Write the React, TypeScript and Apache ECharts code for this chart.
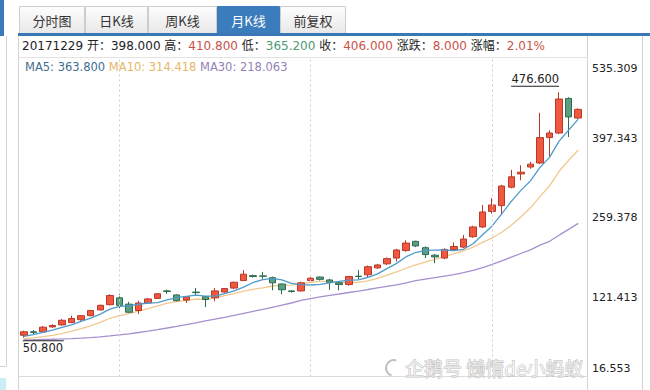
import React, { useEffect, useRef } from "react";
import * as echarts from "echarts";

// ---------- data ----------
const opens = [55, 61, 61, 69.5, 73, 77, 82, 89, 99, 108, 120, 109, 98, 111, 119, 132, 125, 116, 130, 122, 120, 130, 137, 150, 158.5, 158, 155, 144, 132, 132, 150, 156, 151, 146, 143, 157.5, 160, 172, 179, 189, 202, 218, 207, 194, 189, 204, 208, 226, 243, 270, 280, 312, 335, 347, 354, 398, 406, 466, 432];
const closes = [61, 60, 69, 72, 81, 84, 89, 98, 107, 124, 107, 95, 111, 118, 127, 131, 115, 122, 129, 117, 132, 136, 147, 161, 157, 157.5, 146, 134, 131, 146, 154, 152, 147, 143, 157, 157, 174, 177, 188, 203, 215, 210, 195, 191, 204, 209, 222, 243, 269, 281, 314, 330, 338, 352, 398, 406, 465, 434, 447];
const lows = [50.8, 56, 59, 68, 72, 76, 80, 88, 98, 107, 102, 94, 92, 110, 118, 127, 114, 111, 125, 104, 114, 129, 135, 149, 155, 153, 133, 126, 129, 131, 149, 150, 134, 133, 141, 152, 156, 170, 177, 183, 200, 208, 189, 180, 187, 202, 206, 224, 241, 266, 264, 310, 324, 344, 352, 365.2, 404, 399, 430];
const highs = [63, 64, 71, 74, 83, 89, 90, 99, 108, 126, 127, 113, 115, 120, 128, 134, 126, 123, 137, 123, 137, 137, 148, 168, 160, 165, 157, 145, 133, 148, 156, 157, 153, 147, 158, 168, 176, 179, 190, 205, 220, 219, 209, 196, 206, 216, 229, 245, 281, 293, 316, 342, 350, 356, 441, 410.8, 476.6, 468, 449];

const ma5 = [53, 56, 60, 64, 68.6, 73.2, 79, 84.8, 91.8, 100.4, 105, 106.2, 108.8, 111, 111.6, 116.4, 120.4, 122.6, 124.8, 122.8, 123, 127.2, 132.2, 138.6, 146.6, 151.7, 153.7, 151.1, 145.1, 142.9, 142.2, 143.4, 146, 148.4, 150.6, 151.2, 155.6, 161.6, 170.6, 179.8, 191.4, 198.6, 202.2, 202.8, 203, 201.8, 204.2, 213.8, 229.4, 244.8, 265.8, 287.4, 306.4, 323, 346.4, 363.8, 391.8, 411, 430];
const ma10 = [49, 50.5, 52.5, 55, 58, 62, 66.5, 71.5, 77.5, 84.5, 89.1, 92.6, 96.8, 101.4, 106, 110.7, 113.3, 115.7, 117.9, 117.2, 119.7, 123.8, 127.4, 131.7, 134.7, 137.4, 140.5, 141.7, 141.9, 144.8, 147, 148.6, 148.6, 146.8, 146.8, 146.7, 149.5, 153.8, 159.5, 165.2, 171.3, 177.1, 181.9, 186.7, 191.4, 196.6, 201.4, 208, 216.1, 223.9, 233.8, 245.8, 260.1, 276.2, 295.6, 314.418, 339.6, 358.7, 376.5];
const ma30 = [47, 47.3, 47.7, 48.1, 48.6, 49.2, 50, 51, 52.2, 53.8, 55.6, 57.6, 59.8, 62.2, 64.8, 67.6, 70.5, 73.5, 76.6, 79.8, 83, 86.2, 89.5, 93, 96.5, 100, 103.6, 107.2, 111, 115.5, 118.6, 121.7, 124.3, 126.6, 129.2, 131.6, 134.4, 137.1, 139.8, 142.4, 146, 149.8, 152.6, 155.1, 157.6, 160.2, 163.8, 167.8, 172.5, 178, 184, 190.5, 196.9, 203.2, 211.3, 218.063, 228.7, 238.7, 249.2];

const categories = opens.map((_, i) => String(i + 1));
const tabs = ["分时图", "日K线", "周K线", "月K线", "前复权"];
const activeTab = 3;
const selectedDate = "20171229";
const selectedIndex = 55;
const dottedIndices = [10, 30, 49];
const yTickLabels = ["16.553", "121.413", "259.378", "397.343", "535.309"];
const yMin = -16.553;
const yMax = 535.309;
const watermark = "企鹅号 懒惰de小蚂蚁";

// ---------- styles ----------
const NUM_FONT = "'DejaVu Sans', Verdana, sans-serif";
const MIX_FONT = "'DejaVu Sans', 'Noto Sans CJK SC', sans-serif";
const CJK_FONT = "'Noto Sans CJK SC', 'DejaVu Sans', sans-serif";
const UP = "#f0583f";
const UP_BORDER = "#b8392a";
const DOWN = "#5c9f80";
const DOWN_BORDER = "#2e6c50";
const MA5_COLOR = "#4d9acb";
const MA10_COLOR = "#f2c88e";
const MA30_COLOR = "#a690cf";
const tabEdges = [19, 85, 148, 217, 280, 346];

export default function App() {
  const ref = useRef<HTMLDivElement>(null);

  useEffect(() => {
    if (!ref.current) return;
    const chart = echarts.init(ref.current, null, { renderer: "svg" });
    const step = (yMax - yMin) / 4;

    const i = selectedIndex;
    const prev = closes[i - 1];
    const o = opens[i], h = highs[i], l = lows[i], c = closes[i];
    const chg = c - prev;
    const pct = (chg / prev) * 100;
    const tone = (v: number) => (v > prev ? "r" : v < prev ? "g" : "k");
    const headerText =
      `{k|${selectedDate} 开：}{${tone(o)}|${o.toFixed(3)}}` +
      `{k| 高：}{${tone(h)}|${h.toFixed(3)}}` +
      `{k| 低：}{${tone(l)}|${l.toFixed(3)}}` +
      `{k| 收：}{${tone(c)}|${c.toFixed(3)}}` +
      `{k| 涨跌：}{${chg >= 0 ? "r" : "g"}|${chg.toFixed(3)}}` +
      `{k| 涨幅：}{${chg >= 0 ? "r" : "g"}|${pct.toFixed(2)}%}`;
    const maText =
      `{a|MA5: ${ma5[i].toFixed(3)}} {b|MA10: ${ma10[i].toFixed(3)}} {c|MA30: ${ma30[i].toFixed(3)}}`;

    const tabGradient = new echarts.graphic.LinearGradient(0, 0, 0, 1, [
      { offset: 0, color: "#fdfdfd" },
      { offset: 1, color: "#e8e8e8" },
    ]);

    const frameLine = (x1: number, y1: number, x2: number, y2: number, color = "#d3d3d3") => ({
      type: "line",
      silent: true,
      z: 1,
      shape: { x1, y1, x2, y2 },
      style: { stroke: color, lineWidth: 1 },
    });

    const tabElems = tabs.map((t, k) => {
      const x0 = tabEdges[k];
      const x1 = tabEdges[k + 1];
      const active = k === activeTab;
      return {
        type: "group",
        children: [
          {
            type: "rect",
            shape: { x: x0 + 0.5, y: 6.5, width: x1 - x0 - 1, height: 27 },
            style: {
              fill: active ? "#3b7cbc" : tabGradient,
              stroke: active ? "#3b7cbc" : "#cdcdcd",
              lineWidth: 1,
            },
          },
          {
            type: "text",
            x: (x0 + x1) / 2,
            y: 20,
            style: {
              text: t,
              fill: active ? "#ffffff" : "#333333",
              font: `13px ${CJK_FONT}`,
              align: "center",
              verticalAlign: "middle",
              textAlign: "center",
              textVerticalAlign: "middle",
            },
          },
        ],
      };
    });

    const axisRich = {
      mid: { fontSize: 11, fontFamily: NUM_FONT, color: "#222222" },
      top: { fontSize: 11, fontFamily: NUM_FONT, color: "#222222", padding: [4, 0, 0, 0] },
      bot: { fontSize: 11, fontFamily: NUM_FONT, color: "#222222", padding: [0, 0, 3, 0] },
    };

    const option: any = {
      animation: false,
      backgroundColor: "#ffffff",
      grid: { left: 19, right: 67, top: 58.5, bottom: 13.5, containLabel: false },
      xAxis: {
        type: "category",
        data: categories,
        boundaryGap: true,
        axisLine: { show: false },
        axisTick: { show: false },
        axisLabel: { show: false },
        splitLine: { show: false },
      },
      yAxis: {
        type: "value",
        position: "right",
        min: yMin,
        max: yMax,
        interval: step,
        axisLine: { show: false },
        axisTick: { show: false },
        splitLine: { show: false },
        axisLabel: {
          margin: 9,
          color: "#222222",
          fontSize: 11,
          fontFamily: NUM_FONT,
          verticalAlignMinLabel: "bottom",
          verticalAlignMaxLabel: "top",
          rich: axisRich,
          formatter: (v: number) => {
            const idx = Math.round((v - yMin) / step);
            const text = yTickLabels[idx] ?? "";
            const key = idx === 0 ? "bot" : idx === yTickLabels.length - 1 ? "top" : "mid";
            return `{${key}|${text}}`;
          },
        },
      },
      series: [
        {
          type: "candlestick",
          name: "K",
          barWidth: 7,
          data: opens.map((op, k) => [op, closes[k], lows[k], highs[k]]),
          itemStyle: {
            color: UP,
            color0: DOWN,
            borderColor: UP_BORDER,
            borderColor0: DOWN_BORDER,
            borderWidth: 1,
          },
          markLine: {
            silent: true,
            symbol: ["none", "none"],
            label: { show: false },
            lineStyle: { color: "#cfcfcf", type: [2, 3], width: 1 },
            data: dottedIndices.map((k) => ({ xAxis: categories[k] })),
          },
          markPoint: {
            symbol: "circle",
            symbolSize: 1,
            silent: true,
            itemStyle: { color: "rgba(0,0,0,0)" },
            label: {
              show: true,
              position: "inside",
              rich: {
                t: { fontSize: 11.5, fontFamily: NUM_FONT, color: "#222222", lineHeight: 13 },
                u1: { width: 48, height: 1, lineHeight: 2, backgroundColor: "#222222" },
                u2: { width: 41, height: 1, lineHeight: 2, backgroundColor: "#222222" },
              },
            },
            data: [
              {
                type: "max",
                valueDim: "highest",
                label: {
                  align: "right",
                  verticalAlign: "bottom",
                  offset: [0, -5],
                  formatter: (p: any) => `{t|${Number(p.value).toFixed(3)}}\n{u1|}`,
                },
              },
              {
                type: "min",
                valueDim: "lowest",
                label: {
                  align: "left",
                  verticalAlign: "top",
                  offset: [-1, 2],
                  formatter: (p: any) => `{u2|}\n{t|${Number(p.value).toFixed(3)}}`,
                },
              },
            ],
          },
          z: 3,
        },
        {
          type: "line",
          name: "MA5",
          data: ma5,
          showSymbol: false,
          symbol: "none",
          lineStyle: { color: MA5_COLOR, width: 1.3 },
          itemStyle: { color: MA5_COLOR },
          z: 4,
        },
        {
          type: "line",
          name: "MA10",
          data: ma10,
          showSymbol: false,
          symbol: "none",
          lineStyle: { color: MA10_COLOR, width: 1.3 },
          itemStyle: { color: MA10_COLOR },
          z: 2,
        },
        {
          type: "line",
          name: "MA30",
          data: ma30,
          showSymbol: false,
          symbol: "none",
          lineStyle: { color: MA30_COLOR, width: 1.3 },
          itemStyle: { color: MA30_COLOR },
          z: 2,
        },
      ],
      graphic: [
        // page chrome on the far left
        { type: "rect", silent: true, shape: { x: 0, y: 0, width: 4, height: 36 }, style: { fill: "#3b7bbb" } },
        frameLine(6.5, 36, 6.5, 366),
        frameLine(0, 366.5, 6.5, 366.5),
        { type: "rect", silent: true, shape: { x: 0, y: 378, width: 6, height: 12 }, style: { fill: "#c9eef6" } },
        // tabs
        ...tabElems,
        // blue bar under tabs
        { type: "rect", silent: true, shape: { x: 18, y: 33, width: 632, height: 3 }, style: { fill: "#3a78b5" } },
        // panel frame
        frameLine(18.5, 36, 18.5, 390),
        frameLine(587.5, 36, 587.5, 390),
        frameLine(642.5, 36, 642.5, 390),
        frameLine(18.5, 57.5, 587.5, 57.5, "#e2e2e2"),
        frameLine(18.5, 376.5, 587.5, 376.5, "#dcdcdc"),
        // info row
        {
          type: "text",
          x: 22,
          y: 46,
          silent: true,
          style: {
            text: headerText,
            font: `12px ${MIX_FONT}`,
            verticalAlign: "middle",
            textVerticalAlign: "middle",
            rich: {
              k: { fill: "#222222", color: "#222222", fontSize: 12, fontFamily: MIX_FONT },
              r: { fill: "#c9534a", color: "#c9534a", fontSize: 12, fontFamily: MIX_FONT },
              g: { fill: "#4e9a72", color: "#4e9a72", fontSize: 12, fontFamily: MIX_FONT },
            },
          },
        },
        // MA row
        {
          type: "text",
          x: 25,
          y: 67,
          silent: true,
          style: {
            text: maText,
            font: `11.5px ${NUM_FONT}`,
            verticalAlign: "middle",
            textVerticalAlign: "middle",
            rich: {
              a: { fill: "#3f6f8f", color: "#3f6f8f", fontSize: 11.5, fontFamily: NUM_FONT },
              b: { fill: "#e5b768", color: "#e5b768", fontSize: 11.5, fontFamily: NUM_FONT },
              c: { fill: "#9582b6", color: "#9582b6", fontSize: 11.5, fontFamily: NUM_FONT },
            },
          },
        },
        // watermark
        {
          type: "arc",
          silent: true,
          z: 100,
          shape: { cx: 394, cy: 368, r: 8, startAngle: Math.PI * 0.6, endAngle: Math.PI * 1.6 },
          style: { stroke: "rgba(150,150,150,0.6)", lineWidth: 2, fill: null },
        },
        {
          type: "text",
          silent: true,
          z: 100,
          x: 405,
          y: 367,
          style: {
            text: watermark,
            font: `19px ${CJK_FONT}`,
            fill: "rgba(255,255,255,0.65)",
            stroke: "rgba(140,140,140,0.55)",
            lineWidth: 1,
            verticalAlign: "middle",
            textVerticalAlign: "middle",
          },
        },
      ],
    };

    chart.setOption(option);
    return () => chart.dispose();
  }, []);

  return (
    <div
      ref={ref}
      style={{ position: "absolute", left: 0, top: 0, width: 650, height: 390, background: "#ffffff" }}
    />
  );
}
